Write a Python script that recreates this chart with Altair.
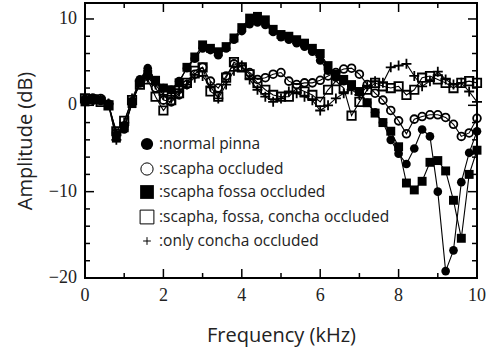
import altair as alt
import pandas as pd

# ---------------- data ----------------
freq = [0.0, 0.2, 0.4, 0.6, 0.8, 1.0, 1.2, 1.4, 1.6, 1.8,
        2.0, 2.2, 2.4, 2.6, 2.8, 3.0, 3.2, 3.4, 3.6, 3.8,
        4.0, 4.2, 4.4, 4.6, 4.8, 5.0, 5.2, 5.4, 5.6, 5.8,
        6.0, 6.2, 6.4, 6.6, 6.8, 7.0, 7.2, 7.4, 7.6, 7.8,
        8.0, 8.2, 8.4, 8.6, 8.8, 9.0, 9.2, 9.4, 9.6, 9.8, 10.0]

normal_pinna = [0.6, 0.9, 0.5, 0.2, -3.4, -2.8, 0.3, 3.0, 4.3, 2.8,
                2.0, 1.8, 2.8, 4.3, 5.4, 6.6, 6.4, 5.8, 6.6, 7.6,
                8.6, 9.4, 9.6, 9.3, 8.5, 7.9, 7.6, 7.2, 6.8, 6.2,
                5.2, 4.0, 3.2, 2.8, 2.3, 1.5, 0.3, -0.8, -2.0, -4.0,
                -5.6, -6.8, -5.0, -2.8, -3.6, -10.0, -19.2, -16.8, -8.9, -5.5, -3.0]

scapha_occluded = [0.7, 0.6, 0.8, 0.1, -3.2, -2.4, 0.4, 2.6, 3.4, 2.0,
                   0.6, 0.4, 1.2, 2.4, 3.6, 4.4, 2.8, 2.0, 3.4, 4.8,
                   4.4, 3.8, 3.0, 3.2, 3.6, 3.8, 2.8, 2.4, 2.6, 2.6,
                   2.9, 3.4, 3.8, 4.2, 4.3, 3.6, 2.4, 1.4, 0.6, -0.6,
                   -1.8, -3.3, -1.6, -1.3, -1.1, -1.1, -1.4, -2.2, -3.6, -3.2, -1.5]

scapha_fossa_occluded = [0.4, 0.7, 0.6, 0.0, -3.8, -2.6, 0.2, 2.6, 3.6, 2.9,
                         2.0, 1.8, 2.6, 4.4, 5.6, 7.0, 6.6, 6.2, 6.8, 7.8,
                         9.0, 10.1, 10.3, 9.9, 8.8, 8.2, 8.0, 7.6, 7.2, 6.6,
                         6.0, 4.6, 3.6, 3.0, 2.4, 1.6, 0.3, -0.9, -2.0, -3.0,
                         -4.8, -9.0, -9.8, -8.8, -6.6, -6.4, -7.6, -11.0, -15.4, -8.0, -5.2]

sfc_occluded = [0.8, 0.7, 0.4, 0.0, -3.0, -1.8, 0.6, 2.4, 3.0, 1.0,
                -0.6, 0.6, 1.4, 2.6, 4.0, 4.4, 1.6, 1.0, 3.2, 5.0,
                4.4, 3.6, 2.6, 1.8, 1.2, 1.0, 1.0, 2.0, 1.6, 1.2,
                0.4, 1.8, 2.8, 2.0, -1.2, 0.4, 1.8, 2.6, 2.2, 2.0,
                2.2, 1.2, 1.8, 3.2, 3.4, 3.0, 2.6, 2.0, 2.6, 2.8, 2.6]

concha_occluded = [0.6, 0.5, 0.7, 0.2, -4.0, -2.0, 0.8, 2.8, 3.2, 2.4,
                   1.2, 0.8, 1.6, 2.4, 3.2, 3.4, 2.2, 0.8, 2.4, 4.0,
                   4.6, 3.0, 1.8, 1.0, 0.4, 0.8, 1.6, 1.4, 1.0, 0.6,
                   -0.6, 0.0, 0.8, 1.4, 1.8, 1.2, 2.2, 2.8, 2.6, 4.4,
                   4.6, 4.8, 3.4, 2.2, 2.8, 3.9, 3.0, 2.4, 2.6, 1.6, 0.4]

legend_labels = [":normal pinna", ":scapha occluded", ":scapha fossa occluded",
                 ":scapha, fossa, concha occluded", ":only concha occluded"]

x_ticks_major = [0, 2, 4, 6, 8, 10]
x_ticks_minor = [1, 3, 5, 7, 9]
y_ticks_major = [-20, -10, 0, 10]
y_ticks_minor = [-18, -16, -14, -12, -8, -6, -4, -2, 2, 4, 6, 8]

# ---------------- layout / style ----------------
W, H = 392, 275
PLUS = "M-1,0L1,0M0,-1L0,1"
SERIF = "Times New Roman, Liberation Serif, DejaVu Serif, serif"
SANS = "Open Sans"
x_scale = alt.Scale(domain=[0, 10], nice=False, zero=False)
y_scale = alt.Scale(domain=[-20, 11.85], nice=False, zero=False)

x_axis = alt.Axis(values=x_ticks_major, ticks=False, domain=False, grid=False,
                  labels=False, title="Frequency (kHz)", titlePadding=47)
y_axis = alt.Axis(values=y_ticks_major, ticks=False, domain=False, grid=False,
                  labels=False, title="Amplitude (dB)", titlePadding=50)

X = lambda f: alt.X(f, scale=x_scale, axis=x_axis)
Y = lambda f: alt.Y(f, scale=y_scale, axis=y_axis)

# series draw order and marker styles
series = [
    ("sfc", sfc_occluded, dict(shape="square", filled=False, size=70, strokeWidth=1.8)),
    ("concha", concha_occluded, dict(shape=PLUS, filled=False, size=100, strokeWidth=1.8)),
    ("scapha", scapha_occluded, dict(shape="circle", filled=False, size=60, strokeWidth=1.8)),
    ("scapha_fossa", scapha_fossa_occluded, dict(shape="square", filled=True, size=80)),
    ("normal", normal_pinna, dict(shape="circle", filled=True, size=75)),
]

layers = []
for name, vals, style in series:
    df = pd.DataFrame({"freq": freq, "amp": vals})
    layers.append(alt.Chart(df).mark_line(color="black", strokeWidth=1.1).encode(
        x=X("freq:Q"), y=Y("amp:Q")))
    layers.append(alt.Chart(df).mark_point(color="black", opacity=1, **style).encode(
        x=X("freq:Q"), y=Y("amp:Q")))

# inward ticks on all four sides
def yticks(vals, length, side):
    d = pd.DataFrame({"amp": vals})
    x0, x1 = (0, length) if side == "left" else (W - length, W)
    return alt.Chart(d).mark_rule(color="black", strokeWidth=1.5).encode(
        y=Y("amp:Q"), x=alt.value(x0), x2=alt.value(x1))

def xticks(vals, length, side):
    d = pd.DataFrame({"freq": vals})
    y0, y1 = (H - length, H) if side == "bottom" else (0, length)
    return alt.Chart(d).mark_rule(color="black", strokeWidth=1.5).encode(
        x=X("freq:Q"), y=alt.value(y0), y2=alt.value(y1))

for side in ("left", "right"):
    layers.append(yticks(y_ticks_major, 9, side))
    layers.append(yticks(y_ticks_minor, 5, side))
for side in ("bottom", "top"):
    layers.append(xticks(x_ticks_major, 9, side))
    layers.append(xticks(x_ticks_minor, 5, side))

# tick labels drawn as serif text through the scales
ylab = pd.DataFrame({"amp": y_ticks_major,
                     "lab": [("\u2212" + str(-v)) if v < 0 else str(v) for v in y_ticks_major]})
xlab = pd.DataFrame({"freq": x_ticks_major, "lab": [str(v) for v in x_ticks_major]})
layers.append(alt.Chart(ylab).mark_text(align="right", baseline="middle", font=SERIF,
                                        fontSize=18, color="#222", dx=-8).encode(
    y=Y("amp:Q"), x=alt.value(0), text="lab:N"))
layers.append(alt.Chart(xlab).mark_text(align="center", baseline="top", font=SERIF,
                                        fontSize=18, color="#222", dy=9).encode(
    x=X("freq:Q"), y=alt.value(H), text="lab:N"))

# legend inside the plot
leg_styles = [
    dict(shape="circle", filled=True, size=150),
    dict(shape="circle", filled=False, size=150, strokeWidth=1),
    dict(shape="square", filled=True, size=190),
    dict(shape="square", filled=False, size=190, strokeWidth=1),
    dict(shape=PLUS, filled=False, size=60, strokeWidth=1),
]
leg_y = [141, 166, 189, 214, 238]
one = pd.DataFrame({"k": [0]})
for lab, st, ly in zip(legend_labels, leg_styles, leg_y):
    layers.append(alt.Chart(one).mark_point(color="black", opacity=1, **st).encode(
        x=alt.value(62), y=alt.value(ly)))
    layers.append(alt.Chart(one).mark_text(text=lab, align="left", baseline="middle",
                                           font=SANS, fontSize=15.5, color="#222").encode(
        x=alt.value(74), y=alt.value(ly)))

chart = alt.layer(*layers).properties(
    width=W, height=H,
    padding={"left": 85, "top": 3, "right": 15, "bottom": 70},
    autosize=alt.AutoSizeParams(type="none"),
    background="white",
).configure_view(
    stroke="black", strokeWidth=2
).configure_axis(
    titleFont=SANS, titleFontSize=20, titleFontWeight="normal", titleColor="#222",
)

chart.save("out.html", embed_options={"renderer": "svg", "actions": False})
